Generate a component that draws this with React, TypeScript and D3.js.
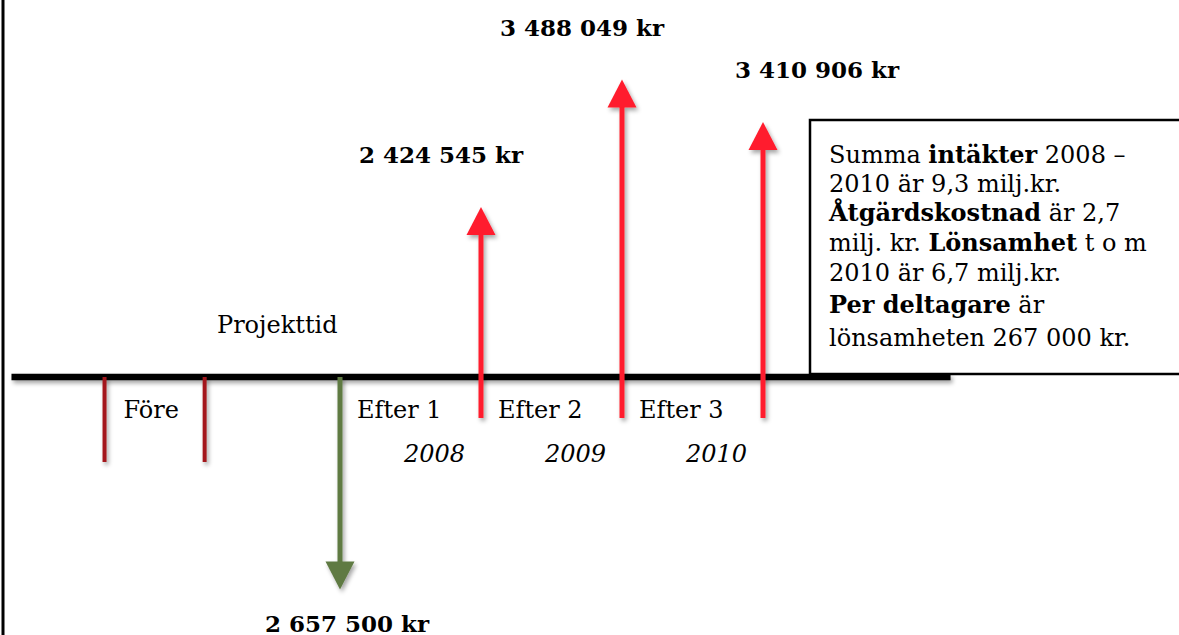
import * as d3 from "d3"

// timeline: år efter projektet, intäkter per år
const years = [2008, 2009, 2010]
const periodLabels = ["Efter 1", "Efter 2", "Efter 3"]
const revenues = [2424545, 3488049, 3410906]
// pilarna är inte skalenliga – ritad längd i figurens egna enheter
const drawnLengths = [2, 3.5, 3]

const projectEnd = 2007
const foreSpan = [2005.33, 2006.04]
const costValue = 2657500
const costDrawn = -2.5

const noteLines: [string, boolean][][] = [
  [["Summa ", false], ["intäkter", true], [" 2008 –", false]],
  [["2010 är 9,3 milj.kr.", false]],
  [["Åtgärdskostnad", true], [" är 2,7", false]],
  [["milj. kr. ", false], ["Lönsamhet", true], [" t o m", false]],
  [["2010 är 6,7 milj.kr.", false]],
  [["Per deltagare", true], [" är", false]],
  [["lönsamheten 267 000 kr.", false]],
]

const W = 1179
const H = 635
const serif = "'DejaVu Serif', serif"

const fmtKr = (v: number) => d3.format(",")(v).replace(/,/g, " ") + " kr"

export default function App() {
  const x = d3.scaleLinear().domain([projectEnd, 2010]).range([340, 763])
  const y = d3.scaleLinear().domain([0, 1]).range([377, 292])
  const base = y(0)

  const head = 28
  const headW = 29
  const arrowUp = (cx: number, tip: number) =>
    `M${cx - headW / 2},${tip + head}L${cx},${tip}L${cx + headW / 2},${tip + head}Z`
  const arrowDown = (cx: number, tip: number) =>
    `M${cx - headW / 2},${tip - head}L${cx},${tip}L${cx + headW / 2},${tip - head}Z`

  const red = "#ff1e2d"
  const darkRed = "#a3191c"
  const green = "#5f7a43"

  const costTip = y(costDrawn)
  const numSize = 23
  // radavstånd i rutan (sista raderna har lite extra luft)
  const lineY = [163, 192, 221, 251, 281, 313, 346]

  return (
    <svg width={W} height={H} style={{ position: "absolute", left: 0, top: 0, background: "#fff" }}>
      <defs>
        <filter id="sh" filterUnits="userSpaceOnUse" x={0} y={0} width={W} height={H}>
          <feDropShadow dx="2" dy="3" stdDeviation="2" floodColor="#000" floodOpacity="0.35" />
        </filter>
      </defs>

      {/* vänsterkant */}
      <line x1={3} x2={3} y1={0} y2={H} stroke="#000" strokeWidth={3} />

      {/* tidslinje */}
      <line x1={x(2004.67)} x2={x(2011.33)} y1={base} y2={base} stroke="#000" strokeWidth={6.5} filter="url(#sh)" />

      {/* Före */}
      {foreSpan.map((v, i) => (
        <line key={i} x1={x(v)} x2={x(v)} y1={base} y2={base + 85} stroke={darkRed} strokeWidth={4} filter="url(#sh)" />
      ))}
      <text x={x(foreSpan[0]) + 19} y={418} fontFamily={serif} fontSize={24}>Före</text>

      <text x={217} y={333} fontFamily={serif} fontSize={24}>Projekttid</text>

      {/* kostnad */}
      <g filter="url(#sh)">
        <line x1={x(projectEnd)} x2={x(projectEnd)} y1={base} y2={costTip - head + 1} stroke={green} strokeWidth={5} />
        <path d={arrowDown(x(projectEnd), costTip)} fill={green} />
      </g>
      <text x={x(projectEnd) + 7} y={costTip + 42} textAnchor="middle" fontFamily={serif} fontWeight="bold" fontSize={numSize}>
        {fmtKr(costValue)}
      </text>

      {/* intäkter */}
      {years.map((yr, i) => {
        const cx = x(yr)
        const tip = y(drawnLengths[i])
        const prev = i === 0 ? projectEnd : years[i - 1]
        const labelDx = i === 2 ? 54 : -40
        return (
          <g key={yr}>
            <g filter="url(#sh)">
              <line x1={cx} x2={cx} y1={base + 41} y2={tip + head - 1} stroke={red} strokeWidth={5} />
              <path d={arrowUp(cx, tip)} fill={red} />
            </g>
            <text x={x(prev) + 17} y={418} fontFamily={serif} fontSize={24}>{periodLabels[i]}</text>
            <text x={cx - 16} y={462} textAnchor="end" fontFamily={serif} fontStyle="italic" fontSize={24}>{yr}</text>
            <text x={cx + labelDx} y={tip - 44} textAnchor="middle" fontFamily={serif} fontWeight="bold" fontSize={numSize}>
              {fmtKr(revenues[i])}
            </text>
          </g>
        )
      })}

      {/* textruta */}
      <rect x={810} y={120} width={420} height={254} fill="#fff" stroke="#000" strokeWidth={2.5} />
      {noteLines.map((parts, i) => (
        <text key={i} x={829} y={lineY[i]} fontFamily={serif} fontSize={24}>
          {parts.map(([t, b], j) => (
            <tspan key={j} fontWeight={b ? "bold" : "normal"}>{t}</tspan>
          ))}
        </text>
      ))}
    </svg>
  )
}
